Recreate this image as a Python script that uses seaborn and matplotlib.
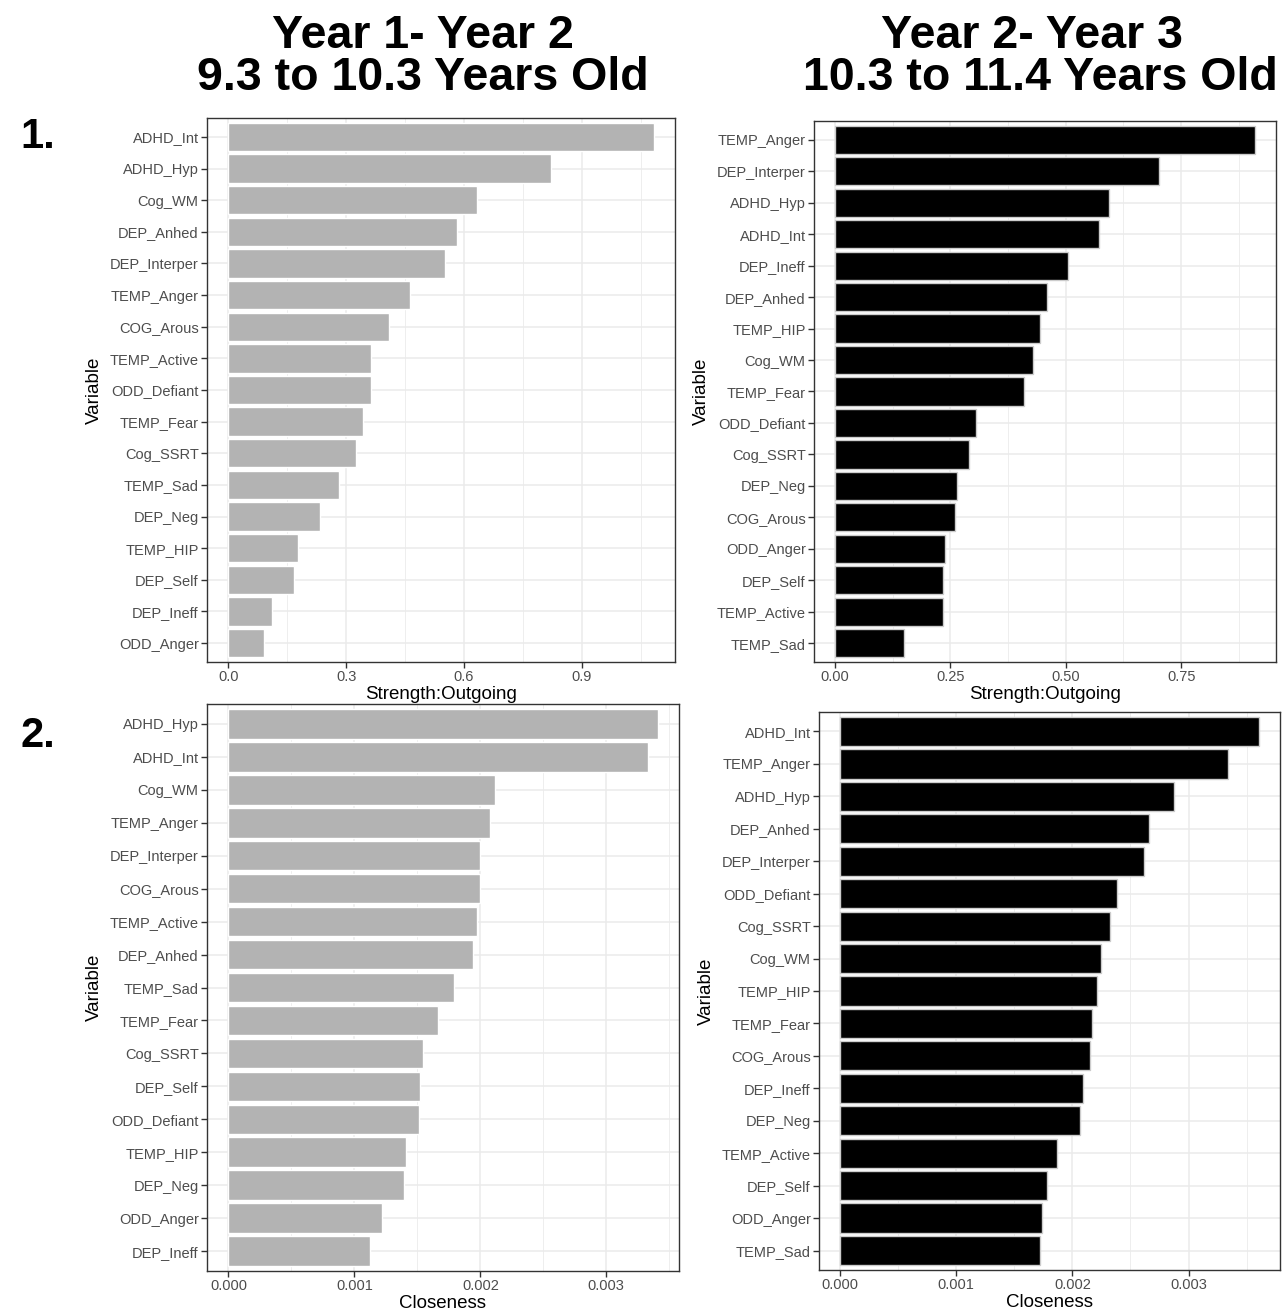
import numpy as np
import pandas as pd
import matplotlib
matplotlib.use("Agg")
import matplotlib.pyplot as plt
import seaborn as sns
from matplotlib.ticker import MultipleLocator

# panel 1: year1-year2 strength outgoing
y12_str_vars = ['ADHD_Int', 'ADHD_Hyp', 'Cog_WM', 'DEP_Anhed', 'DEP_Interper', 'TEMP_Anger',
                'COG_Arous', 'TEMP_Active', 'ODD_Defiant', 'TEMP_Fear', 'Cog_SSRT', 'TEMP_Sad',
                'DEP_Neg', 'TEMP_HIP', 'DEP_Self', 'DEP_Ineff', 'ODD_Anger']
y12_str_vals = [1.083, 0.821, 0.633, 0.583, 0.552, 0.462, 0.409, 0.363, 0.363, 0.344, 0.326,
                0.281, 0.234, 0.178, 0.168, 0.111, 0.092]

# panel 2: year2-year3 strength outgoing
y23_str_vars = ['TEMP_Anger', 'DEP_Interper', 'ADHD_Hyp', 'ADHD_Int', 'DEP_Ineff', 'DEP_Anhed',
                'TEMP_HIP', 'Cog_WM', 'TEMP_Fear', 'ODD_Defiant', 'Cog_SSRT', 'DEP_Neg',
                'COG_Arous', 'ODD_Anger', 'DEP_Self', 'TEMP_Active', 'TEMP_Sad']
y23_str_vals = [0.910, 0.703, 0.593, 0.573, 0.505, 0.460, 0.444, 0.429, 0.410, 0.305, 0.290,
                0.265, 0.261, 0.239, 0.235, 0.235, 0.150]

# panel 3: year1-year2 closeness
y12_clo_vars = ['ADHD_Hyp', 'ADHD_Int', 'Cog_WM', 'TEMP_Anger', 'DEP_Interper', 'COG_Arous',
                'TEMP_Active', 'DEP_Anhed', 'TEMP_Sad', 'TEMP_Fear', 'Cog_SSRT', 'DEP_Self',
                'ODD_Defiant', 'TEMP_HIP', 'DEP_Neg', 'ODD_Anger', 'DEP_Ineff']
y12_clo_vals = [0.003407, 0.003329, 0.002117, 0.002076, 0.002001, 0.001995, 0.001976, 0.001945,
                0.001791, 0.001663, 0.001544, 0.001522, 0.001510, 0.001409, 0.001397, 0.001218,
                0.001121]

# panel 4: year2-year3 closeness
y23_clo_vars = ['ADHD_Int', 'TEMP_Anger', 'ADHD_Hyp', 'DEP_Anhed', 'DEP_Interper', 'ODD_Defiant',
                'Cog_SSRT', 'Cog_WM', 'TEMP_HIP', 'TEMP_Fear', 'COG_Arous', 'DEP_Ineff',
                'DEP_Neg', 'TEMP_Active', 'DEP_Self', 'ODD_Anger', 'TEMP_Sad']
y23_clo_vals = [0.003607, 0.003339, 0.002873, 0.002662, 0.002617, 0.002381, 0.002327, 0.002250,
                0.002209, 0.002167, 0.002148, 0.002091, 0.002062, 0.001870, 0.001781, 0.001743,
                0.001724]

sns.set_theme(style="white")
plt.rcParams['font.family'] = ['Liberation Sans', 'DejaVu Sans']
plt.rcParams['text.color'] = 'black'
plt.rcParams['axes.labelcolor'] = 'black'

W, H = 1283, 1316
fig = plt.figure(figsize=(W / 100, H / 100), dpi=100)


def box(left, right, top, bottom):
    # pixel box -> figure fraction rect
    return [left / W, 1 - bottom / H, (right - left) / W, (bottom - top) / H]


def panel(rect, labels, vals, fill, edge, step, fmt, xlabel):
    ax = fig.add_axes(rect)
    df = pd.DataFrame({'Variable': labels, 'value': vals})
    sns.barplot(data=df, x='value', y='Variable', orient='h', color=fill, saturation=1,
                width=0.9, edgecolor=edge, linewidth=1.0, ax=ax, zorder=3)
    n = len(labels)
    mx = max(vals)
    ax.xaxis.set_major_locator(MultipleLocator(step))
    ax.xaxis.set_minor_locator(MultipleLocator(step / 2))
    ax.set_xlim(-0.05 * mx, 1.05 * mx)
    ax.set_ylim(n - 1 + 0.6, -0.6)
    ax.xaxis.set_major_formatter(lambda v, p: fmt.format(v))
    ax.grid(which='major', color='#EBEBEB', linewidth=1.1, zorder=0)
    ax.grid(which='minor', axis='x', color='#EBEBEB', linewidth=0.6, zorder=0)
    ax.set_axisbelow(True)
    for s in ax.spines.values():
        s.set_color('#333333')
        s.set_linewidth(1.0)
    ax.tick_params(axis='both', which='major', length=4, width=1, color='#333333',
                   labelsize=10.5, labelcolor='#4D4D4D', pad=2, left=True, bottom=True)
    ax.tick_params(axis='x', which='minor', length=0)
    ax.set_xlabel(xlabel, fontsize=13.5, labelpad=1)
    ax.set_ylabel('Variable', fontsize=13.5, labelpad=5)
    return ax


panel(box(207, 675, 118, 662), y12_str_vars, y12_str_vals, '#B3B3B3', 'white',
      0.3, '{:.1f}', 'Strength:Outgoing')
panel(box(814, 1276, 121, 662), y23_str_vars, y23_str_vals, 'black', '#CCCCCC',
      0.25, '{:.2f}', 'Strength:Outgoing')
panel(box(207, 679, 704, 1271), y12_clo_vars, y12_clo_vals, '#B3B3B3', 'white',
      0.001, '{:.3f}', 'Closeness')
panel(box(819, 1280, 712, 1270), y23_clo_vars, y23_clo_vals, 'black', '#CCCCCC',
      0.001, '{:.3f}', 'Closeness')

# column headers
fig.text(423 / W, 1 - 36 / H, 'Year 1- Year 2', ha='center', va='center',
         fontsize=33.5, fontweight='bold')
fig.text(423 / W, 1 - 78 / H, '9.3 to 10.3 Years Old', ha='center', va='center',
         fontsize=33.5, fontweight='bold')
fig.text(1032 / W, 1 - 36 / H, 'Year 2- Year 3', ha='center', va='center',
         fontsize=33.5, fontweight='bold')
fig.text(1040 / W, 1 - 78 / H, '10.3 to 11.4 Years Old', ha='center', va='center',
         fontsize=33.5, fontweight='bold')

# row markers
fig.text(20 / W, 1 - 137 / H, '1.', ha='left', va='center', fontsize=30, fontweight='bold')
fig.text(20 / W, 1 - 736 / H, '2.', ha='left', va='center', fontsize=30, fontweight='bold')

fig.savefig('out.png', dpi=100, facecolor='white')
